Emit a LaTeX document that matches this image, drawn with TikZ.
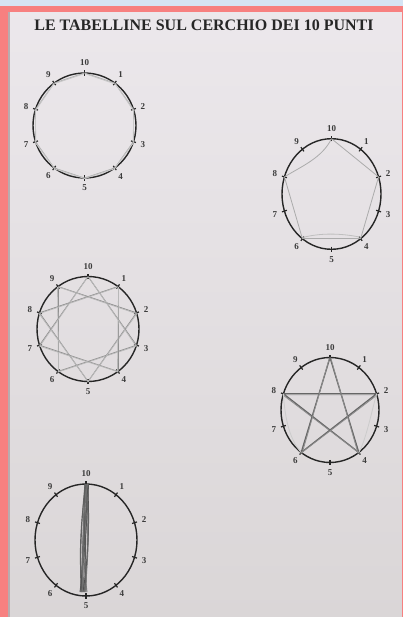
\documentclass[tikz,border=0pt]{standalone}
\usepackage{fontspec}
\setmainfont{Liberation Serif}
\definecolor{paperTop}{HTML}{ECE8EC}
\definecolor{paperBot}{HTML}{DAD6D7}
\definecolor{skyblue}{HTML}{D6E4F4}
\definecolor{pinkband}{HTML}{F78080}
\definecolor{edgegray}{HTML}{B8ABAE}
\definecolor{ink}{HTML}{262626}
\tikzset{
  rim/.style={draw=ink, line width=1.4pt},
  tickmark/.style={draw=ink, line width=1.2pt},
  num/.style={font=\fontsize{9}{9}\selectfont\bfseries, text=ink!90, inner sep=0pt},
  chordlight/.style={draw=black!33, line width=0.8pt},
  chordmid/.style={draw=black!45, line width=0.8pt},
  chorddark/.style={draw=black!60, line width=1.3pt},
  pencil/.style={draw=black!62, line width=0.9pt},
}
% #1 name, #2 cx, #3 cy, #4 rx, #5 ry
\newcommand\tenpoints[5]{%
  \draw[rim] (#2,#3) ellipse [x radius=#4pt, y radius=#5pt];
  \foreach \k in {1,...,10}{%
    \pgfmathsetmacro\ang{90-36*\k}%
    \coordinate (#1-\k) at ({#2+#4*cos(\ang)},{#3-#5*sin(\ang)});
    \draw[tickmark] ({#2+(#4-2.6)*cos(\ang)},{#3-(#5-2.6)*sin(\ang)}) -- ({#2+(#4+2.6)*cos(\ang)},{#3-(#5+2.6)*sin(\ang)});
    \node[num] (#1-l\k) at ({#2+(#4+10)*cos(\ang)},{#3-(#5+10)*sin(\ang)}) {\k};
  }%
}
\begin{document}
\begin{tikzpicture}[x=1pt,y=-1pt]
\useasboundingbox (0,0) rectangle (403,617);
% paper and frame
\shade[top color=paperTop, bottom color=paperBot] (0,0) rectangle (403,617);
\fill[skyblue] (0,0) rectangle (403,6);
\fill[pinkband] (0,6) rectangle (403,12.5);
\fill[pinkband] (0,6) rectangle (8,617);
\fill[edgegray] (8,12.5) rectangle (10,617);
\fill[pinkband] (401.5,6) rectangle (403,617);

% title
\node[font=\fontsize{16}{16}\selectfont\bfseries, text=ink, inner sep=0pt] (title) at (204,25) {LE TABELLINE SUL CERCHIO DEI 10 PUNTI};

% ---- circle 1: table of 1 (decagon)
\tenpoints{c1}{84.5}{125.5}{51.5}{52.5}
\foreach \a/\b in {10/1,1/2,2/3,3/4,4/5,5/6,6/7,7/8,8/9,9/10}{
  \draw[chordlight] (c1-\a) -- (c1-\b);
  \draw[chordlight, draw=black!22] ([shift={(0.4,0.6)}]c1-\a) -- ([shift={(-0.4,0.7)}]c1-\b);
}

% ---- circle 2: table of 2 (pentagon)
\tenpoints{c2}{331.5}{194}{49.5}{55.3}
\draw[chordlight] (c2-10) .. controls (322,158) and (302,166) .. (c2-8);
\draw[chordlight] (c2-10) -- (c2-2);
\draw[chordlight] (c2-2) -- (c2-4);
\draw[chordlight] (c2-4) -- (c2-6);
\draw[chordlight, draw=black!25] ([shift={(0,-1.5)}]c2-4) .. controls (340,233) and (320,233) .. ([shift={(0,-1.2)}]c2-6);
\draw[chordlight] (c2-6) -- (c2-8);

% ---- circle 3: table of 3 (star)
\tenpoints{c3}{88}{329}{51}{52.5}
\foreach \a/\b in {3/6,6/9,9/2,2/5,5/8,8/1,1/4,4/7,7/10,10/3}{
  \draw[chordmid] (c3-\a) -- (c3-\b);
  \draw[chordlight, draw=black!28] ([shift={(0.6,0.5)}]c3-\a) -- ([shift={(-0.5,0.7)}]c3-\b);
}

% ---- circle 4: table of 4 (pentagram)
\tenpoints{c4}{330}{410}{49}{52.5}
\foreach \a/\b in {4/8,8/2,2/6,6/10,10/4}{
  \draw[chorddark] (c4-\a) -- (c4-\b);
  \draw[chordmid] ([shift={(0.9,0.9)}]c4-\a) -- ([shift={(-0.7,1.0)}]c4-\b);
}
\draw[chordlight, draw=black!20] (c4-8) .. controls (285,420) and (290,440) .. (c4-6);
\draw[chordlight, draw=black!20] (c4-2) .. controls (372,410) and (366,440) .. (c4-4);

% ---- circle 5: table of 5 (diameter, heavily pencilled)
\tenpoints{c5}{86}{540}{51}{56}
\foreach \sa/\ca/\cb/\sb/\g in {0/-3/-4/-2/55, 1/0/-1/-1/65, 2/2/1/0/50, -1/-5/-6/-5/60, 1.5/4/2/-3/70, 0.5/-2/-5/-4/58, 2.5/1/-2/-6/66, -0.5/-4/-3/1/52, 0/-6/-7/-4/62, 1/3/3/-2/57, 2/-1/-4/-5/68, 0.5/1/-6/-3/60, -1/-3/0/-1/64, 1.5/-5/-2/-4/56}{
  \draw[pencil, draw=black!\g] ([shift={(\sa,0)}]c5-10) .. controls (86+\ca,525) and (86+\cb,560) .. ([shift={(\sb,-4)}]c5-5);
}
\end{tikzpicture}
\end{document}
